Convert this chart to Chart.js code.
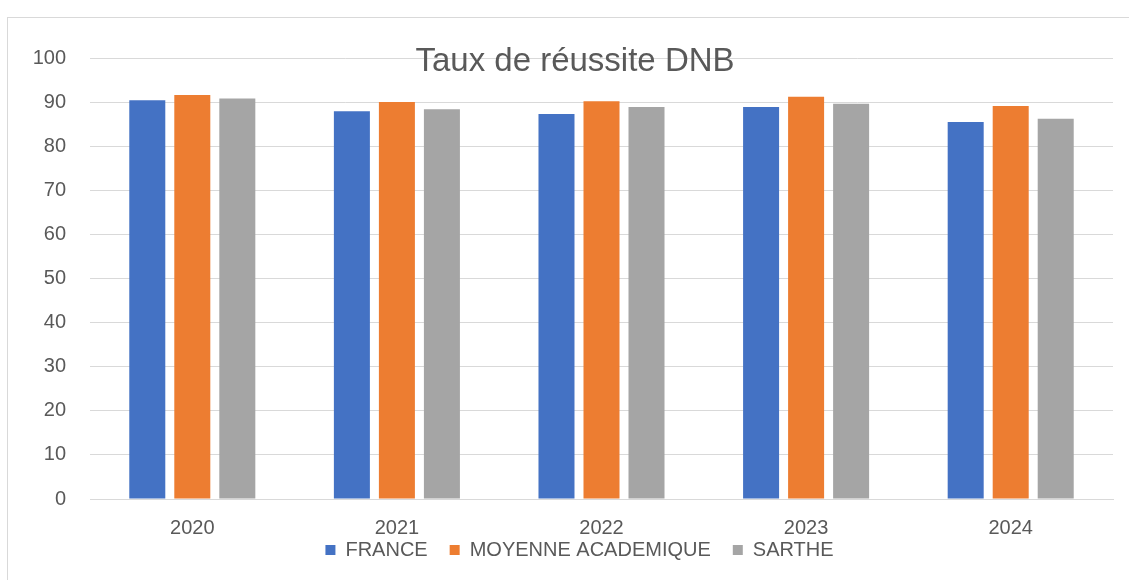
<!DOCTYPE html>
<html>
<head>
<meta charset="utf-8">
<script src="https://cdn.jsdelivr.net/npm/chart.js@4"></script>
<style>
  html, body { margin: 0; padding: 0; background: #fff; }
  canvas { display: block; }
</style>
</head>
<body>
<canvas id="chart" width="1129" height="580"></canvas>
<script>
// Data
const years = ['2020', '2021', '2022', '2023', '2024'];
const france = [90.4, 87.9, 87.3, 88.9, 85.5];
const moyenneAcademique = [91.6, 90.0, 90.2, 91.2, 89.1];
const sarthe = [90.8, 88.4, 88.9, 89.6, 86.2];
const yTicks = [0, 10, 20, 30, 40, 50, 60, 70, 80, 90, 100];
const titleText = 'Taux de réussite DNB';

const textColor = '#595959';
const gridColor = '#D9D9D9';
const fontFamily = '"Liberation Sans", Arial, sans-serif';

// Border + white background, then overlaid title (Excel style)
const frameAndTitle = {
    id: 'frameAndTitle',
    afterLayout(chart) {
        // axes were squeezed in afterFit; widen their label clip boxes again
        chart.scales.x.bottom = chart.height;
        chart.scales.y.left = 0;
    },
    beforeDraw(chart) {
        const ctx = chart.ctx;
        ctx.save();
        ctx.fillStyle = '#fff';
        ctx.fillRect(0, 0, chart.width, chart.height);
        ctx.strokeStyle = gridColor;
        ctx.lineWidth = 1;
        ctx.strokeRect(7.5, 17.5, chart.width + 20, chart.height + 20);
        ctx.restore();
    },
    afterDraw(chart) {
        const ctx = chart.ctx;
        ctx.save();
        ctx.font = '33px ' + fontFamily;
        ctx.fillStyle = textColor;
        ctx.textAlign = 'center';
        ctx.textBaseline = 'middle';
        ctx.fillText(titleText, 575, 62);
        ctx.restore();
    }
};

new Chart(document.getElementById('chart').getContext('2d'), {
    type: 'bar',
    data: {
        labels: years,
        datasets: [
            { label: 'FRANCE', data: france, backgroundColor: '#4472C4' },
            { label: 'MOYENNE ACADEMIQUE', data: moyenneAcademique, backgroundColor: '#ED7D31' },
            { label: 'SARTHE', data: sarthe, backgroundColor: '#A5A5A5' }
        ]
    },
    options: {
        responsive: false,
        animation: false,
        devicePixelRatio: 1,
        categoryPercentage: 0.66,
        barPercentage: 0.8,
        layout: { padding: { top: 58, left: 46, right: 16, bottom: 10 } },
        font: { family: fontFamily },
        plugins: {
            title: { display: false },
            tooltip: { enabled: false },
            legend: {
                position: 'bottom',
                labels: {
                    color: textColor,
                    font: { family: fontFamily, size: 20 },
                    boxWidth: 10,
                    boxHeight: 10,
                    padding: 22
                }
            }
        },
        scales: {
            x: {
                grid: { display: false, drawTicks: false },
                border: { display: true, color: gridColor, width: 1 },
                ticks: { color: textColor, font: { family: fontFamily, size: 20 }, padding: 17 },
                afterFit(scale) { scale.height = 19; }
            },
            y: {
                min: 0,
                max: 100,
                afterBuildTicks(axis) { axis.ticks = yTicks.map(v => ({ value: v })); },
                grid: { color: gridColor, lineWidth: 1, drawTicks: false },
                border: { display: false },
                ticks: { color: textColor, font: { family: fontFamily, size: 20 }, padding: 24 },
                afterFit(scale) { scale.width = 44; }
            }
        }
    },
    plugins: [frameAndTitle]
});
</script>
</body>
</html>
